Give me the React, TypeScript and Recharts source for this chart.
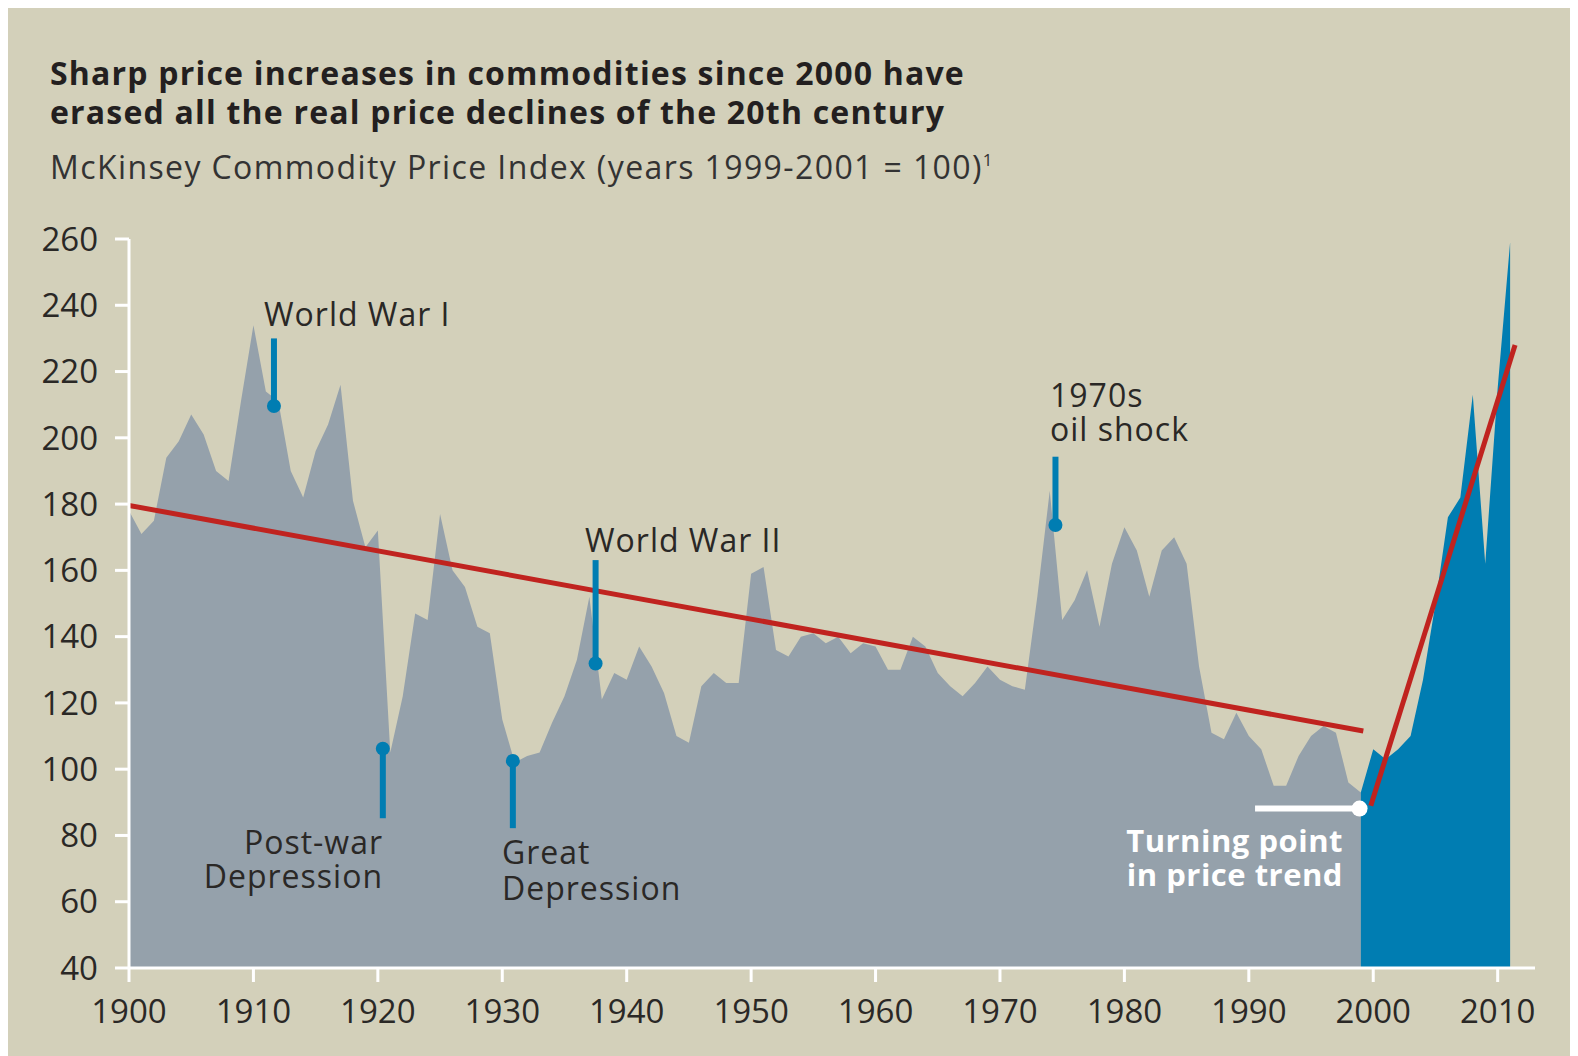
import { Area, ComposedChart, ReferenceDot, ReferenceLine, XAxis, YAxis } from "recharts";

// McKinsey Commodity Price Index
const firstYear = 1900;
const pastValues = [
  178, 171, 175, 194, 199, 207, 201, 190, 187, 211, // 1900s
  234, 214, 211, 190, 182, 196, 204, 216, 181, 167, // 1910s
  172, 105, 122, 147, 145, 177, 160, 155, 143, 141, // 1920s
  115, 102, 104, 105, 114, 122, 133, 152, 121, 129, // 1930s
  127, 137, 131, 123, 110, 108, 125, 129, 126, 126, // 1940s
  159, 161, 136, 134, 140, 141, 138, 140, 135, 138, // 1950s
  137, 130, 130, 140, 137, 129, 125, 122, 126, 131, // 1960s
  127, 125, 124, 152, 184, 145, 151, 160, 143, 162, // 1970s
  173, 166, 152, 166, 170, 162, 131, 111, 109, 117, // 1980s
  110, 106, 95, 95, 104, 110, 113, 111, 96, 93, // 1990s
];
const recentStart = 1999;
const recentValues = [93, 106, 103, 106, 110, 127, 150, 176, 182, 213, 162, 215, 259];

const xTicks = [1900, 1910, 1920, 1930, 1940, 1950, 1960, 1970, 1980, 1990, 2000, 2010];
const yTicks = [40, 60, 80, 100, 120, 140, 160, 180, 200, 220, 240, 260];

// trend lines (start/end points)
const trendPre2000 = [{ x: 1900, y: 179.6 }, { x: 1999.2, y: 111.5 }];
const trendPost2000 = [{ x: 1999.8, y: 89 }, { x: 2011.4, y: 228 }];

// event markers: year, dot value, end of the stick
const events = [
  { name: "World War I", year: 1911.65, dot: 209.6, end: 230 },
  { name: "Post-war Depression", year: 1920.4, dot: 106.2, end: 85.2 },
  { name: "Great Depression", year: 1930.85, dot: 102.5, end: 82.2 },
  { name: "World War II", year: 1937.5, dot: 131.9, end: 163.1 },
  { name: "1970s oil shock", year: 1974.46, dot: 173.7, end: 194.3 },
];
const turningPoint = { from: 1990.5, to: 1998.9, value: 88.1 };

const rows = [];
for (let y = firstYear; y <= recentStart + recentValues.length - 1; y++) {
  rows.push({
    year: y,
    past: y - firstYear < pastValues.length ? pastValues[y - firstYear] : null,
    recent: y >= recentStart ? recentValues[y - recentStart] : null,
  });
}

const W = 1570;
const H = 1048;
const BG = "#d3d0ba";
const GREY = "#95a1ab";
const BLUE = "#007db2";
const RED = "#c0231f";
const INK = "#2a2826";
const FONT = "'Open Sans', sans-serif";

// one <text> per label, extra lines as tspans
function Lines({ x, y, gap, lines, anchor = "start", style }) {
  return (
    <text x={x} y={y} textAnchor={anchor} {...style}>
      {lines.map((l, i) => (
        <tspan key={l} x={x} dy={i === 0 ? 0 : gap}>{l}</tspan>
      ))}
    </text>
  );
}

function Overlay() {
  const label = { fontFamily: FONT, fontSize: 32, fill: INK, letterSpacing: 1 };
  const bold = { fontFamily: FONT, fontSize: 31, fontWeight: 700, fill: "#fff", letterSpacing: 0.5 };
  const title = { fontFamily: FONT, fontSize: 32, fontWeight: 700, fill: "#231f20", letterSpacing: 1.2 };
  return (
    <svg width={W} height={H} style={{ position: "absolute", left: 0, top: 0, pointerEvents: "none" }}>
      <Lines
        x={42}
        y={77}
        gap={39}
        style={title}
        lines={["Sharp price increases in commodities since 2000 have", "erased all the real price declines of the 20th century"]}
      />
      <text x={42} y={171} fontFamily={FONT} fontSize={32} fill="#333" letterSpacing={1.4}>
        McKinsey Commodity Price Index (years 1999-2001 = 100)
        <tspan fontSize={17} dy={-13} letterSpacing={0}>1</tspan>
      </text>
      <text x={256} y={318} {...label}>World War I</text>
      <text x={577} y={544} {...label}>World War II</text>
      <Lines x={1042} y={399} gap={34} style={label} lines={["1970s", "oil shock"]} />
      <Lines x={375} y={846} gap={34} anchor="end" style={label} lines={["Post-war", "Depression"]} />
      <Lines x={494} y={856} gap={36} style={label} lines={["Great", "Depression"]} />
      <Lines x={1335} y={844} gap={34} anchor="end" style={bold} lines={["Turning point", "in price trend"]} />
    </svg>
  );
}

export default function App() {
  const tick = { fill: INK, fontSize: 33, fontFamily: FONT };
  const axisLine = { stroke: "#fff", strokeWidth: 3 };
  return (
    <div style={{ position: "relative", width: W, height: H, background: BG }}>
      <ComposedChart width={W} height={H} data={rows} margin={{ top: 231, right: 43, bottom: 28, left: 21 }}>
        <XAxis
          dataKey="year"
          type="number"
          domain={[1900, 2013]}
          ticks={xTicks}
          interval={0}
          allowDataOverflow
          height={60}
          tickSize={14}
          tickMargin={18}
          axisLine={axisLine}
          tickLine={axisLine}
          tick={tick}
        />
        <YAxis
          type="number"
          domain={[40, 260]}
          ticks={yTicks}
          interval={0}
          allowDataOverflow
          width={100}
          tickSize={14}
          tickMargin={17}
          axisLine={axisLine}
          tickLine={axisLine}
          tick={tick}
        />
        <Area dataKey="past" type="linear" stroke="none" fill={GREY} fillOpacity={1} dot={false} activeDot={false} isAnimationActive={false} />
        <Area dataKey="recent" type="linear" stroke="none" fill={BLUE} fillOpacity={1} dot={false} activeDot={false} isAnimationActive={false} />
        <ReferenceLine segment={trendPre2000} stroke={RED} strokeWidth={5} ifOverflow="visible" />
        <ReferenceLine segment={trendPost2000} stroke={RED} strokeWidth={5} ifOverflow="visible" />
        {events.map((e) => (
          <ReferenceLine
            key={e.name}
            segment={[{ x: e.year, y: e.dot }, { x: e.year, y: e.end }]}
            stroke={BLUE}
            strokeWidth={6}
            ifOverflow="visible"
          />
        ))}
        {events.map((e) => (
          <ReferenceDot key={e.name + "-dot"} x={e.year} y={e.dot} r={7} fill={BLUE} stroke="none" ifOverflow="visible" />
        ))}
        <ReferenceLine
          segment={[{ x: turningPoint.from, y: turningPoint.value }, { x: turningPoint.to, y: turningPoint.value }]}
          stroke="#fff"
          strokeWidth={6}
          ifOverflow="visible"
        />
        <ReferenceDot x={turningPoint.to} y={turningPoint.value} r={8} fill="#fff" stroke="none" ifOverflow="visible" />
      </ComposedChart>
      <Overlay />
    </div>
  );
}
